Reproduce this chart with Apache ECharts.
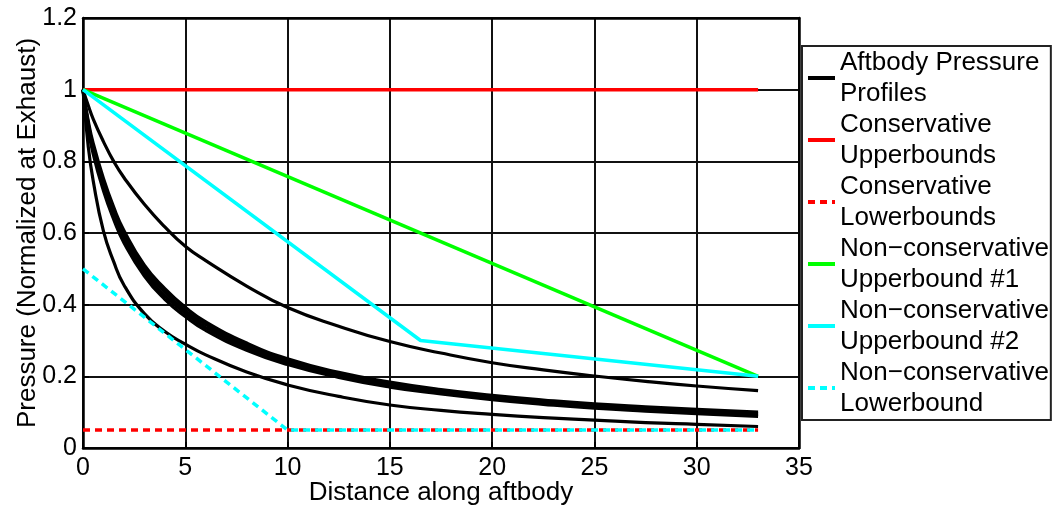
<!DOCTYPE html>
<html>
<head>
<meta charset="utf-8">
<script src="https://cdn.jsdelivr.net/npm/echarts@6/dist/echarts.min.js"></script>
<style>
  html, body { margin: 0; padding: 0; background: #fff; }
  #chart { width: 1053px; height: 505px; }
</style>
</head>
<body>
<div id="chart"></div>
<script>
// ---- Data ----
const xTickLabels = ['0', '5', '10', '15', '20', '25', '30', '35'];
const yTickLabels = ['0', '0.2', '0.4', '0.6', '0.8', '1', '1.2'];

const profileX      = [0, 0.25, 0.5, 1, 1.5, 2, 3, 4, 5, 6, 8, 10, 12.5, 15, 17.5, 20, 22.5, 25, 27.5, 30, 33];
const profileTop    = [1, 0.957, 0.918, 0.855, 0.80, 0.755, 0.68, 0.617, 0.563, 0.523, 0.452, 0.392, 0.34, 0.297, 0.265, 0.238, 0.218, 0.201, 0.186, 0.173, 0.16];
const profileMidA   = [1, 0.915, 0.85, 0.752, 0.672, 0.607, 0.51, 0.445, 0.393, 0.352, 0.293, 0.249, 0.211, 0.184, 0.163, 0.147, 0.134, 0.123, 0.115, 0.108, 0.100];
const profileMidB   = [1, 0.908, 0.84, 0.741, 0.661, 0.596, 0.50, 0.435, 0.384, 0.344, 0.286, 0.244, 0.206, 0.179, 0.159, 0.143, 0.130, 0.119, 0.111, 0.104, 0.096];
const profileMidC   = [1, 0.902, 0.83, 0.729, 0.649, 0.584, 0.49, 0.425, 0.376, 0.336, 0.280, 0.238, 0.202, 0.175, 0.155, 0.139, 0.126, 0.115, 0.107, 0.100, 0.092];
const profileMidD   = [1, 0.895, 0.82, 0.718, 0.638, 0.573, 0.48, 0.415, 0.367, 0.328, 0.273, 0.233, 0.197, 0.170, 0.151, 0.135, 0.122, 0.111, 0.103, 0.096, 0.088];
const profileBottom = [1, 0.845, 0.745, 0.605, 0.52, 0.455, 0.375, 0.325, 0.29, 0.26, 0.212, 0.176, 0.144, 0.12, 0.105, 0.094, 0.085, 0.078, 0.071, 0.066, 0.06];

const consUpperX = [0, 33];
const consUpper  = [1, 1];
const consLowerX = [0, 33];
const consLower  = [0.05, 0.05];
const ncUpper1X  = [0, 33];
const ncUpper1   = [1, 0.2];
const ncUpper2X  = [0, 16.5, 33];
const ncUpper2   = [1, 0.3, 0.2];
const ncLowerX   = [0, 10, 33];
const ncLower    = [0.5, 0.05, 0.05];

const names = [
  'Aftbody Pressure\nProfiles',
  'Conservative\nUpperbounds',
  'Conservative\nLowerbounds',
  'Non\u2212conservative\nUpperbound #1',
  'Non\u2212conservative\nUpperbound #2',
  'Non\u2212conservative\nLowerbound'
];

const pairs = (xs, ys) => xs.map((x, i) => [x, ys[i]]);
const FONT = 'Liberation Sans, Arial, Helvetica, sans-serif';

function lineSeries(name, xs, ys, color, width, dashed, smooth) {
  return {
    type: 'line',
    name: name,
    data: pairs(xs, ys),
    symbol: 'none',
    smooth: smooth ? 0.5 : false,
    lineStyle: { color: color, width: width, type: dashed ? [7, 5] : 'solid', cap: 'butt' },
    itemStyle: { color: color },
    emphasis: { disabled: true },
    silent: true,
    z: 3
  };
}

const series = [
  lineSeries(names[0], profileX, profileTop, '#000', 3.2, false, true),
  lineSeries(names[0], profileX, profileMidA, '#000', 3.2, false, true),
  lineSeries(names[0], profileX, profileMidB, '#000', 3.2, false, true),
  lineSeries(names[0], profileX, profileMidC, '#000', 3.2, false, true),
  lineSeries(names[0], profileX, profileMidD, '#000', 3.2, false, true),
  lineSeries(names[0], profileX, profileBottom, '#000', 3.2, false, true),
  lineSeries(names[1], consUpperX, consUpper, '#ff0000', 3.5, false, false),
  lineSeries(names[2], consLowerX, consLower, '#ff0000', 3.5, true, false),
  lineSeries(names[3], ncUpper1X, ncUpper1, '#00ff00', 3.5, false, false),
  lineSeries(names[4], ncUpper2X, ncUpper2, '#00ffff', 3.5, false, false),
  lineSeries(names[5], ncLowerX, ncLower, '#00ffff', 3.5, true, false)
];

const chart = echarts.init(document.getElementById('chart'), null, { renderer: 'canvas' });
chart.setOption({
  animation: false,
  backgroundColor: '#fff',
  grid: { left: 83, right: 254, top: 18, bottom: 57, containLabel: false, outerBoundsMode: 'none' },
  xAxis: [{
    type: 'value', min: 0, max: 35, interval: 5,
    name: 'Distance along aftbody', nameLocation: 'middle', nameGap: 32, nameMoveOverlap: false,
    nameTextStyle: { color: '#000', fontSize: 26, fontFamily: FONT },
    axisLine: { show: true, onZero: false, lineStyle: { color: '#000', width: 2.5 } },
    axisTick: { show: true, inside: true, length: 6, lineStyle: { color: '#000', width: 2 } },
    axisLabel: { color: '#000', fontSize: 25, fontFamily: FONT, margin: 8,
      formatter: v => xTickLabels[Math.round(v / 5)] },
    splitLine: { show: true, lineStyle: { color: '#111', width: 2 } }
  }, {
    type: 'value', min: 0, max: 35, position: 'top',
    axisLine: { show: true, onZero: false, lineStyle: { color: '#000', width: 2.5 } },
    axisTick: { show: false }, axisLabel: { show: false }, splitLine: { show: false }
  }],
  yAxis: [{
    type: 'value', min: 0, max: 1.2, interval: 0.2,
    name: 'Pressure (Normalized at Exhaust)', nameLocation: 'middle', nameGap: 42, nameMoveOverlap: false,
    nameTextStyle: { color: '#000', fontSize: 26, fontFamily: FONT },
    axisLine: { show: true, onZero: false, lineStyle: { color: '#000', width: 2.5 } },
    axisTick: { show: true, inside: true, length: 6, lineStyle: { color: '#000', width: 2 } },
    axisLabel: { color: '#000', fontSize: 25, fontFamily: FONT, margin: 6,
      formatter: v => yTickLabels[Math.round(v / 0.2)] },
    splitLine: { show: true, lineStyle: { color: '#111', width: 2 } }
  }, {
    type: 'value', min: 0, max: 1.2, position: 'right',
    axisLine: { show: true, onZero: false, lineStyle: { color: '#000', width: 2.5 } },
    axisTick: { show: false }, axisLabel: { show: false }, splitLine: { show: false }
  }],
  legend: {
    orient: 'vertical', left: 802, top: 46,
    itemWidth: 27, itemHeight: 14, itemGap: 0,
    padding: [1, 2, 1, 4],
    borderColor: '#222', borderWidth: 2, backgroundColor: '#fff',
    selectedMode: false,
    itemStyle: { opacity: 0 },
    lineStyle: { width: 4 },
    textStyle: { color: '#000', fontSize: 26, lineHeight: 31, fontFamily: FONT },
    data: names
  },
  series: series
});
</script>
</body>
</html>
